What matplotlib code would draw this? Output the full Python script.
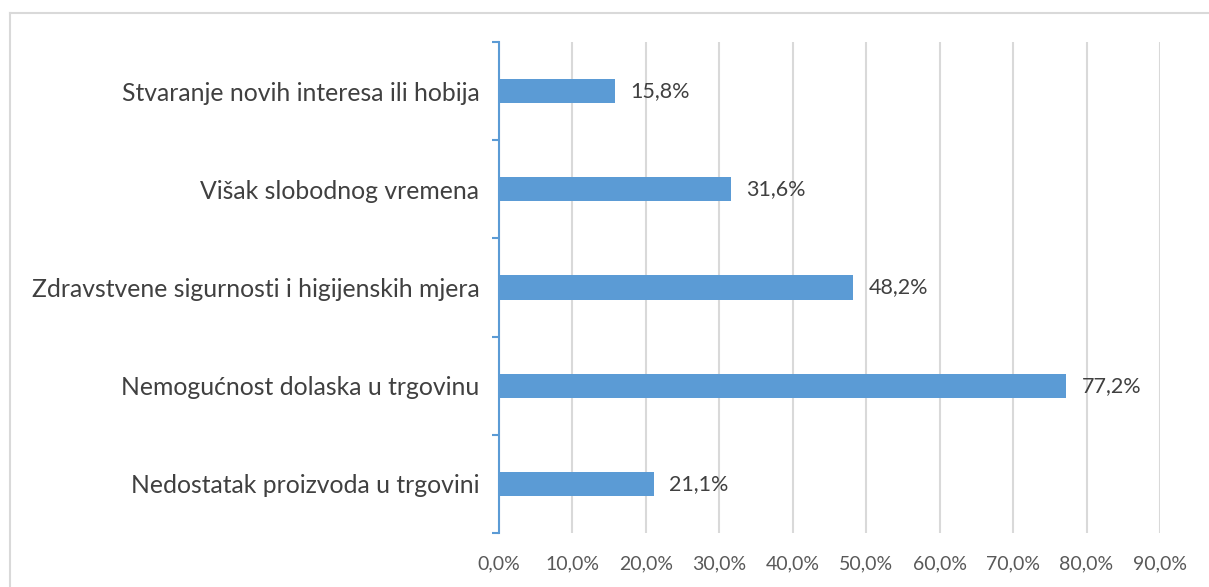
import matplotlib.pyplot as plt
from matplotlib.lines import Line2D
import numpy as np

categories = ['Nedostatak proizvoda u trgovini',
              'Nemogućnost dolaska u trgovinu',
              'Zdravstvene sigurnosti i higijenskih mjera',
              'Višak slobodnog vremena',
              'Stvaranje novih interesa ili hobija']
values = [21.1, 77.2, 48.2, 31.6, 15.8]
xticks = np.arange(0, 100, 10)

blue = '#5B9BD5'
plt.rcParams['font.family'] = ['Lato', 'DejaVu Sans']

fig = plt.figure(figsize=(12.09, 5.87), dpi=100)
ax = fig.add_axes([0.4125, 0.092, 0.5470, 0.8364])

y = np.arange(len(categories))
ax.barh(y, values, height=0.245, color=blue, zorder=3)
for yi, v in zip(y, values):
    ax.text(v + 2.1, yi, f'{v:.1f}%'.replace('.', ','), va='center', ha='left',
            fontsize=15.5, color='#404040')

ax.set_xlim(0, 90)
ax.set_ylim(-0.5, len(categories) - 0.5)
ax.set_xticks(xticks)
ax.set_xticklabels([f'{t:.1f}%'.replace('.', ',') for t in xticks], fontsize=14, color='#595959')
ax.tick_params(axis='x', length=0, pad=16)
ax.grid(axis='x', color='#D9D9D9', linewidth=1.5, zorder=0)

ax.set_yticks(y)
ax.set_yticklabels(categories, fontsize=17.8, color='#404040')
ax.set_yticks(np.arange(-0.5, len(categories), 1), minor=True)
ax.tick_params(axis='y', which='major', length=0, pad=14)
ax.tick_params(axis='y', which='minor', length=5, width=1.5, color=blue)

for s in ['top', 'right', 'bottom']:
    ax.spines[s].set_visible(False)
ax.spines['left'].set_color(blue)
ax.spines['left'].set_linewidth(1.5)

# chart border (top and left visible)
fig.add_artist(Line2D([10 / 1209, 1.0], [1 - 13 / 587, 1 - 13 / 587], color='#D9D9D9', lw=1.5))
fig.add_artist(Line2D([10 / 1209, 10 / 1209], [0, 1 - 13 / 587], color='#D9D9D9', lw=1.5))

fig.savefig('out.png', dpi=100)
